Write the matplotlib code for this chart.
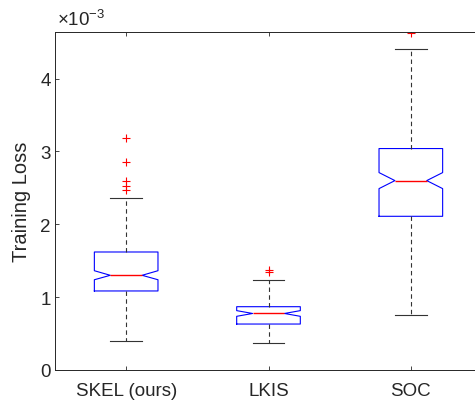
import numpy as np
import matplotlib
matplotlib.use('Agg')
import matplotlib.pyplot as plt

plt.rcParams['font.family'] = ['Liberation Sans', 'DejaVu Sans']
plt.rcParams['mathtext.fontset'] = 'custom'
plt.rcParams['mathtext.rm'] = 'Liberation Sans'

# 値は ×1e-3 単位
labels = ['SKEL (ours)', 'LKIS', 'SOC']
q1 = [1.085, 0.631, 2.11]
med = [1.30, 0.776, 2.60]
q3 = [1.62, 0.869, 3.04]
ci_lo = [1.239, 0.737, 2.49]
ci_hi = [1.363, 0.815, 2.71]
whis_lo = [0.394, 0.375, 0.755]
whis_hi = [2.357, 1.24, 4.41]
outliers = [[3.19, 2.85, 2.594, 2.52, 2.47], [1.35, 1.37], [4.62]]

stats = []
for i in range(3):
    stats.append(dict(label=labels[i], q1=q1[i], med=med[i], q3=q3[i],
                      cilo=ci_lo[i], cihi=ci_hi[i], whislo=whis_lo[i],
                      whishi=whis_hi[i], fliers=outliers[i]))

fig = plt.figure(figsize=(4.75, 4.02), dpi=100)
ax = fig.add_axes([55 / 475, 31 / 402, 427 / 475, 338 / 402])

ax.bxp(stats, positions=[1, 2, 3], widths=0.447, shownotches=True,
       boxprops=dict(color='blue', linewidth=0.8),
       medianprops=dict(color='red', linewidth=1.0, zorder=3),
       whiskerprops=dict(color='#333333', linestyle=(0, (4, 3)), linewidth=0.8),
       capprops=dict(color='#333333', linewidth=0.8),
       flierprops=dict(marker='+', markeredgecolor='red', markersize=6,
                       linestyle='none', markeredgewidth=0.8))

ax.set_xlim(0.5, 3.5)
ax.set_ylim(0, 4.64)
ax.set_yticks([0, 1, 2, 3, 4])
ax.set_yticklabels(['0', '1', '2', '3', '4'])
ax.set_ylabel('Training Loss', fontsize=14.5, color='#262626', labelpad=7)
ax.tick_params(direction='in', length=3, width=0.6, labelsize=13.5,
               colors='#262626', top=True, right=True)
ax.tick_params(axis='x', pad=9)
ax.tick_params(axis='y', pad=3)
for s in ax.spines.values():
    s.set_color('#262626')
    s.set_linewidth(0.7)
ax.text(0.005, 1.01, r'$\times10^{-3}$', transform=ax.transAxes, fontsize=13.5,
        color='#262626', ha='left', va='bottom')

fig.savefig('out.png', dpi=100)
